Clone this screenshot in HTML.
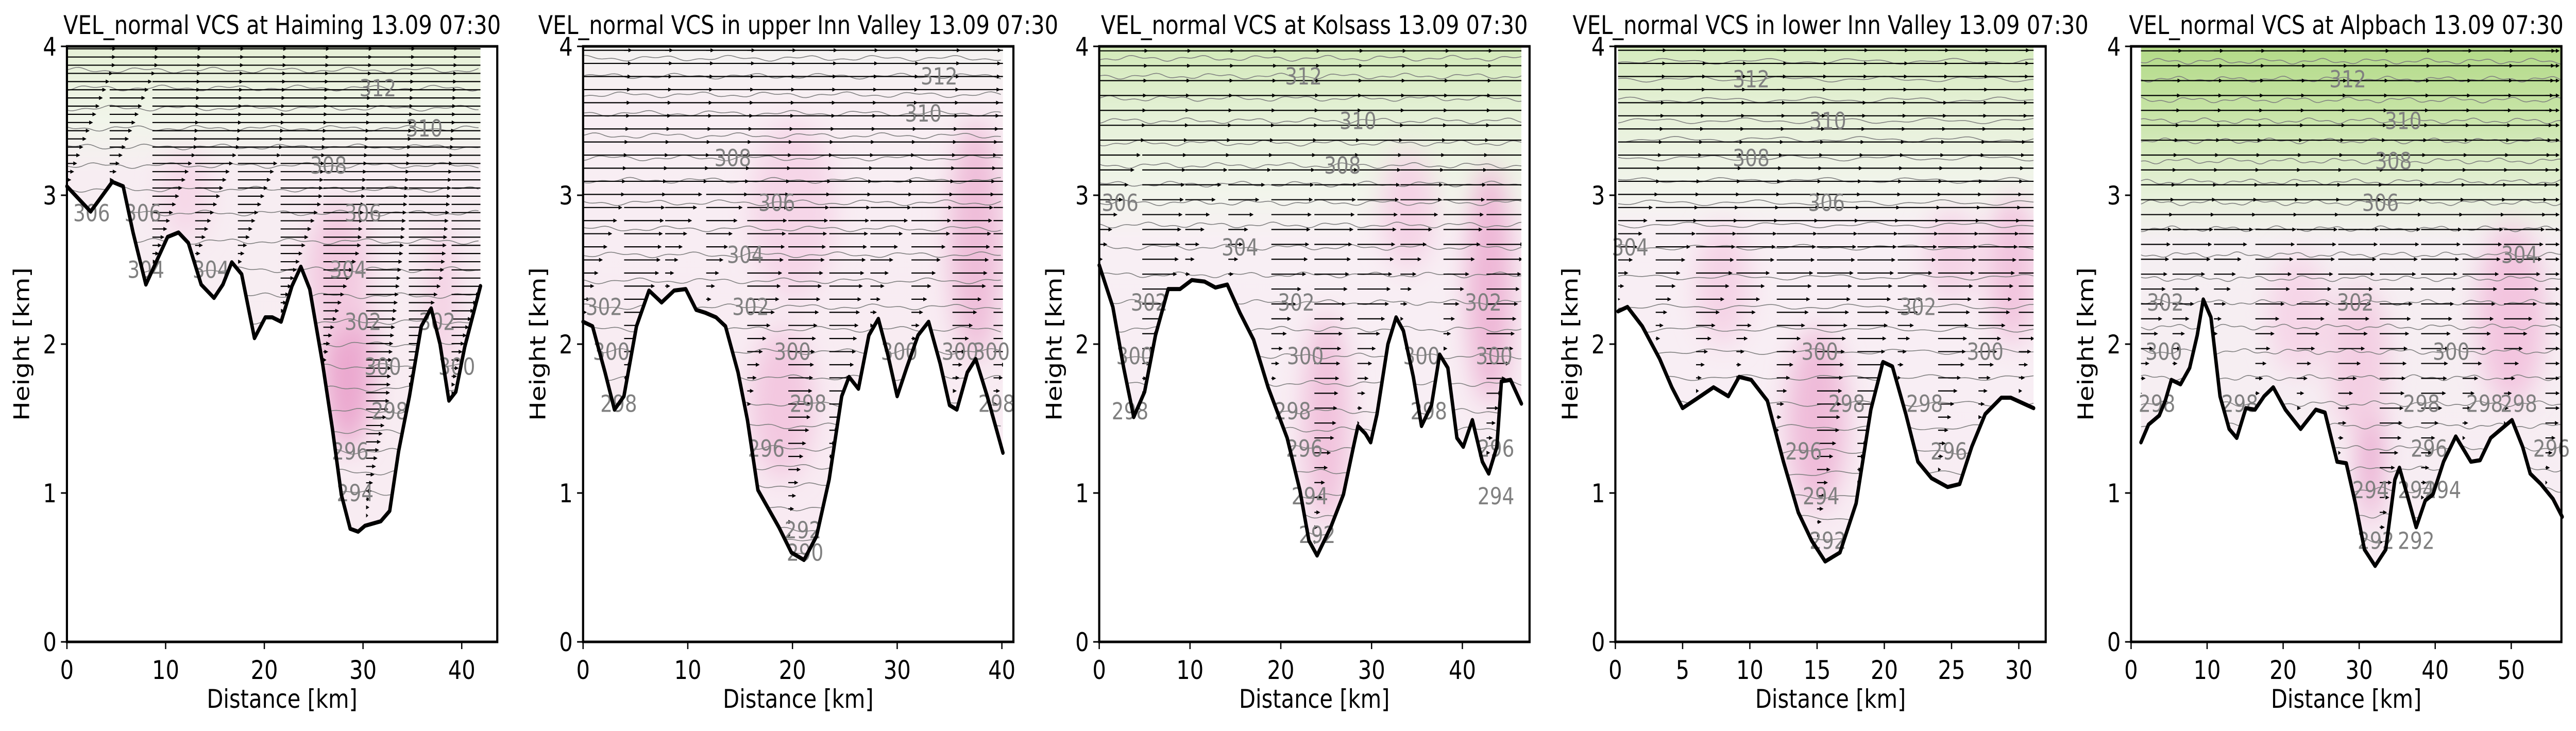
<!DOCTYPE html>
<html><head><meta charset="utf-8"><style>
html,body{margin:0;padding:0;background:#fff;overflow:hidden;width:100%;height:100%}
svg{display:block;overflow:hidden;width:100vw;height:100vh}
text{font-family:"DejaVu Sans","Liberation Sans",sans-serif}
</style></head><body>
<svg id="fig" viewBox="0 0 6004 1419" preserveAspectRatio="none" xmlns="http://www.w3.org/2000/svg">
<defs><filter id="blur" filterUnits="userSpaceOnUse" x="0" y="0" width="6004" height="1419"><feGaussianBlur stdDeviation="28"/></filter></defs>
</svg>
<script>
const titles=["VEL_normal VCS at Haiming 13.09 07:30","VEL_normal VCS in upper Inn Valley 13.09 07:30","VEL_normal VCS at Kolsass 13.09 07:30","VEL_normal VCS in lower Inn Valley 13.09 07:30","VEL_normal VCS at Alpbach 13.09 07:30"];
const xMax=[43.6,41.1,47.4,32.0,56.6];
const xTicks=[[0,10,20,30,40],[0,10,20,30,40],[0,10,20,30,40],[0,5,10,15,20,25,30],[0,10,20,30,40,50]];
const yTicks=[0,1,2,3,4];
const terrain1=[[0,3.06],[2.4,2.89],[4.6,3.09],[5.7,3.06],[6.7,2.75],[8.0,2.40],[9.1,2.56],[10.2,2.72],[11.3,2.75],[12.3,2.68],[13.6,2.40],[14.9,2.31],[15.8,2.40],[16.7,2.55],[17.7,2.47],[19.0,2.04],[20.1,2.18],[20.8,2.18],[21.7,2.15],[22.8,2.39],[23.7,2.52],[24.6,2.37],[25.9,1.87],[26.9,1.43],[27.8,0.99],[28.7,0.76],[29.5,0.74],[30.2,0.78],[31.8,0.81],[32.7,0.88],[33.6,1.28],[34.7,1.65],[35.9,2.12],[36.9,2.24],[37.8,2.00],[38.7,1.62],[39.4,1.68],[40.3,1.98],[41.9,2.39]];
const terrain2=[[0,2.15],[0.9,2.12],[2.1,1.81],[3.0,1.56],[3.9,1.65],[5.1,2.12],[6.3,2.36],[7.5,2.28],[8.7,2.36],[9.8,2.37],[10.8,2.23],[11.7,2.21],[12.7,2.18],[13.6,2.12],[14.8,1.81],[15.7,1.49],[16.7,1.02],[18.7,0.77],[19.9,0.60],[21.1,0.55],[22.3,0.71],[23.5,1.09],[24.7,1.65],[25.4,1.78],[26.3,1.70],[27.3,2.06],[28.2,2.17],[29.1,1.93],[30.0,1.65],[30.9,1.84],[32.0,2.06],[33.0,2.15],[34.1,1.87],[35.0,1.59],[35.7,1.56],[36.7,1.81],[37.5,1.90],[38.6,1.65],[40.1,1.27]];
const terrain3=[[0,2.53],[1.5,2.25],[2.7,1.84],[3.8,1.51],[5.0,1.68],[6.2,2.06],[7.6,2.37],[8.9,2.37],[10.2,2.43],[11.6,2.42],[12.8,2.38],[14.1,2.40],[15.5,2.21],[17.0,2.03],[18.6,1.71],[20.7,1.37],[22.1,1.02],[23.1,0.68],[24.0,0.58],[25.5,0.77],[26.9,0.99],[28.0,1.31],[28.5,1.45],[29.3,1.40],[29.9,1.34],[30.6,1.53],[31.8,2.00],[32.7,2.18],[33.5,2.09],[34.6,1.78],[35.5,1.45],[36.6,1.59],[37.5,1.93],[38.4,1.84],[39.4,1.37],[40.1,1.31],[41.1,1.49],[42.2,1.21],[42.9,1.13],[43.8,1.31],[44.3,1.75],[45.3,1.76],[46.5,1.60]];
const terrain4=[[0.2,2.22],[0.9,2.25],[2.0,2.12],[3.3,1.90],[4.2,1.71],[5.0,1.57],[6.0,1.63],[7.3,1.71],[8.4,1.65],[9.2,1.78],[10.1,1.76],[11.3,1.62],[12.5,1.21],[13.6,0.87],[14.6,0.68],[15.6,0.54],[16.7,0.60],[17.9,0.93],[19.0,1.56],[19.9,1.88],[20.6,1.85],[21.6,1.53],[22.5,1.21],[23.5,1.10],[24.7,1.04],[25.6,1.06],[26.5,1.31],[27.5,1.53],[28.7,1.64],[29.4,1.64],[31.1,1.57]];
const terrain5=[[1.3,1.34],[2.3,1.46],[3.7,1.52],[4.5,1.62],[5.3,1.76],[6.5,1.73],[7.7,1.84],[8.7,2.06],[9.5,2.30],[10.5,2.18],[11.7,1.65],[12.9,1.43],[13.9,1.37],[15.1,1.57],[16.3,1.56],[17.5,1.65],[18.7,1.71],[20.3,1.56],[22.3,1.43],[24.3,1.56],[25.5,1.54],[27.1,1.21],[28.3,1.20],[29.5,0.93],[30.7,0.62],[32.1,0.51],[33.5,0.62],[34.7,1.09],[35.3,1.17],[36.3,0.99],[37.5,0.77],[38.7,0.95],[39.7,0.99],[41.1,1.21],[42.7,1.38],[44.7,1.21],[45.9,1.22],[47.3,1.37],[48.7,1.43],[50.1,1.49],[51.5,1.31],[52.5,1.13],[53.9,1.06],[55.5,0.96],[56.7,0.84]];
const terrains=[terrain1,terrain2,terrain3,terrain4,terrain5];
const levels1=[[294,1.0],[296,1.28],[298,1.55],[300,1.85],[302,2.15],[304,2.5],[306,2.88],[308,3.2],[310,3.45],[312,3.72]];
const levels2=[[290,0.6],[292,0.75],[294,1.05],[296,1.3],[298,1.6],[300,1.95],[302,2.25],[304,2.6],[306,2.95],[308,3.25],[310,3.55],[312,3.8]];
const levels3=[[292,0.72],[294,0.98],[296,1.3],[298,1.55],[300,1.92],[302,2.28],[304,2.65],[306,2.95],[308,3.2],[310,3.5],[312,3.8]];
const levels4=[[292,0.68],[294,0.98],[296,1.28],[298,1.6],[300,1.95],[302,2.25],[304,2.65],[306,2.95],[308,3.25],[310,3.5],[312,3.78]];
const levels5=[[292,0.68],[294,1.02],[296,1.3],[298,1.6],[300,1.95],[302,2.28],[304,2.6],[306,2.95],[308,3.23],[310,3.5],[312,3.78]];
const levelSets=[levels1,levels2,levels3,levels4,levels5];
const labels1=[[2.5,306],[8,304],[14.6,304],[7.7,306],[26.5,308],[31.5,312],[36.2,310],[30,306],[28.5,304],[30,302],[32,300],[32.7,298],[28.7,296],[29.2,294],[39.5,300],[37.5,302]];
const labels2=[[2,302],[2.7,300],[3.4,298],[14.3,308],[18.5,306],[15.5,304],[16,302],[20,300],[21.5,298],[17.5,296],[21,292],[21.2,290],[34,312],[32.5,310],[30.2,300],[36,300],[39,300],[39.5,298]];
const labels3=[[2.3,306],[5.5,302],[3.9,300],[3.4,298],[15.5,304],[21.7,302],[22.7,300],[21.3,298],[22.6,296],[23.2,294],[24,292],[22.5,312],[28.5,310],[26.8,308],[35.5,300],[36.3,298],[42.3,302],[43.5,300],[43.7,296],[43.7,294]];
const labels4=[[1.1,304],[10.1,312],[15.8,310],[10.1,308],[15.7,306],[15.2,300],[17.2,298],[14,296],[15.3,294],[15.8,292],[22.5,302],[23,298],[24.8,296],[27.5,300]];
const labels5=[[4.5,302],[4.3,300],[3.4,298],[14.3,298],[28.5,312],[35.8,310],[34.5,308],[32.8,306],[29.5,302],[42.1,300],[38.2,298],[39.2,296],[41,294],[37.5,294],[37.5,292],[31.5,294],[32.2,292],[51.1,304],[51,298],[46.5,298],[55.3,296]];
const labelSets=[labels1,labels2,labels3,labels4,labels5];
const colStart=[0,0,0,0,0];
const colStep=[4.33,3.92,4.74,3.0,5.45];
const rowStep=[0.055,0.088,0.1,0.088,0.1];
const windSpeed=[[0,0.25],[1,0.35],[2,0.55],[2.6,0.75],[3,0.85],[3.5,0.95],[4,1.0]];
const maxLen=[115,115,115,120,120];
const bgStops=[
 [[4,'#e6f0d6'],[3.5,'#f1f5ea'],[3.15,'#f7edf2'],[0.5,'#f8ecf2']],
 [[4,'#f4f3f1'],[3.6,'#f8eef3'],[0.5,'#f8eaf2']],
 [[4,'#d3eab9'],[3.5,'#e6f1d9'],[3.0,'#f2f5ec'],[2.7,'#f8eff4'],[0.5,'#f8ecf3']],
 [[4,'#d5ebbd'],[3.6,'#e5f0d6'],[3.0,'#f3f5ee'],[2.8,'#f8eff4'],[0.5,'#f8ecf3']],
 [[4,'#b3da88'],[3.6,'#c5e3a3'],[3.0,'#e7f1da'],[2.7,'#f5eff2'],[0.5,'#f8ecf3']]];
const blobs=[
 [[28.5,1.85,2.6,0.55,'#eba8cf'],[27.5,2.5,3.2,0.45,'#f3c9e0'],[12,3.0,2.5,0.3,'#f6d8e8'],[38,2.3,1.5,0.5,'#f4cfe3']],
 [[19,1.6,3,0.5,'#f3c8e0'],[37.5,2.7,2.5,0.8,'#efbdd9'],[20,2.9,4,0.6,'#f6d6e8']],
 [[25,1.5,2.5,0.7,'#f1c1dc'],[43,2.4,2.5,0.8,'#eeb6d6'],[34,2.9,3,0.4,'#f5d3e6']],
 [[15,1.5,2.2,0.6,'#efbbd9'],[29.5,2.5,1.8,0.5,'#f2c4de'],[8,2.4,2,0.4,'#f5d3e6'],[25,2.6,2,0.3,'#f5d3e6']],
 [[31.5,1.4,1.5,0.6,'#e9a4cd'],[50,2.2,4.5,0.6,'#f3c5df'],[30,1.9,4,0.5,'#f4cfe3'],[22,2.2,4,0.4,'#f6d6e8']]];

const NS='http://www.w3.org/2000/svg';
const svg=document.getElementById('fig');
const AX_W=1003, AX_TOP=90, AX_BOT=1246;
const lefts=[156,1359,2562,3765,4967];
function sx(p,x){return lefts[p]+x/xMax[p]*AX_W;}
function sy(h){return AX_BOT-h/4*(AX_BOT-AX_TOP);}
function mk(tag,attrs,parent){const e=document.createElementNS(NS,tag);for(const k in attrs)e.setAttribute(k,attrs[k]);(parent||svg).appendChild(e);return e;}
function ground(p,x){const t=terrains[p];if(x<=t[0][0])return t[0][1];for(let i=1;i<t.length;i++){if(x<=t[i][0]){const f=(x-t[i-1][0])/(t[i][0]-t[i-1][0]);return t[i-1][1]+f*(t[i][1]-t[i-1][1]);}}return t[t.length-1][1];}
function wind(h){for(let i=1;i<windSpeed.length;i++){if(h<=windSpeed[i][0]){const f=(h-windSpeed[i-1][0])/(windSpeed[i][0]-windSpeed[i-1][0]);return windSpeed[i-1][1]+f*(windSpeed[i][1]-windSpeed[i-1][1]);}}return 1;}
const defs=svg.querySelector('defs');

for(let p=0;p<5;p++){
  const g=mk('g',{});
  
  
  const t=terrains[p];
  const x0=t[0][0], x1=t[t.length-1][0];
  const rightEdge=lefts[p]+AX_W-4;
  const cp=mk('clipPath',{id:'clip'+p},defs);
  let pts=sx(p,x0)+','+AX_TOP+' ';
  t.forEach(q=>{pts+=sx(p,q[0])+','+sy(q[1])+' ';});
  pts+=sx(p,x1)+','+AX_TOP;
  mk('polygon',{points:pts},cp);
  const lg=mk('linearGradient',{id:'bg'+p,x1:0,y1:AX_TOP,x2:0,y2:AX_BOT,gradientUnits:'userSpaceOnUse'},defs);
  bgStops[p].forEach(s=>{mk('stop',{offset:((sy(s[0])-AX_TOP)/(AX_BOT-AX_TOP)).toFixed(3),'stop-color':s[1]},lg);});
  const field=mk('g',{'clip-path':'url(#clip'+p+')'},g);
  
  
  mk('rect',{x:sx(p,x0),y:AX_TOP,width:sx(p,x1)-sx(p,x0),height:AX_BOT-AX_TOP,fill:'url(#bg'+p+')'},field);
  const bl=mk('g',{filter:'url(#blur)'},field);
  blobs[p].forEach(b=>{const e=mk('ellipse',{cx:sx(p,b[0]),cy:sy(b[1]),rx:b[2]/xMax[p]*AX_W,ry:b[3]/4*(AX_BOT-AX_TOP),fill:b[4]},bl);
    });
  const lv=levelSets[p];
  const allLv=[];
  for(let i=0;i<lv.length;i++){allLv.push(lv[i][1]);if(i<lv.length-1)allLv.push((lv[i][1]+lv[i+1][1])/2);}
  allLv.push(lv[lv.length-1][1]+0.12);
  allLv.forEach((h,k)=>{
    let d='';
    for(let x=x0;x<=x1+0.01;x+=0.3){const w=0.012*Math.sin(x*0.9+k*1.7)+0.008*Math.sin(x*2.3+k*0.6);const y=sy(h+w);d+=(d?'L':'M')+sx(p,x).toFixed(1)+','+y.toFixed(1);}
    const c=mk('path',{d:d,fill:'none',stroke:'#808080','stroke-width':1.6},field);
    
    
  });
  const ag=mk('g',{},field);
  
  
  for(let cx=colStart[p];cx<=x1;cx+=colStep[p]){
    const gr=ground(p,cx);
    const X=sx(p,cx);
    for(let h=4-rowStep[p]*0.3;h>gr+0.02;h-=rowStep[p]){
      const f=Math.min(1,(h-gr)/0.8);
      let L=Math.max(3,maxLen[p]*wind(h)*(0.05+0.95*f));
      L=Math.min(L,rightEdge-X);
      if(L<3) continue;
      const Y=sy(h);
      if(L>10) mk('line',{x1:X,y1:Y,x2:X+L-7,y2:Y,stroke:'#000','stroke-width':2.2},ag);
      const hl=Math.min(9,L);
      mk('polygon',{points:(X+L)+','+Y+' '+(X+L-hl)+','+(Y-4)+' '+(X+L-hl)+','+(Y+4)},ag);
    }
  }
  labelSets[p].forEach(l=>{
    const e=lv.find(v=>v[0]===l[1]);if(!e)return;
    const tx=mk('text',{x:sx(p,l[0]),y:sy(e[1])+16,'font-size':45,fill:'#808080','text-anchor':'middle'},g);
    tx.textContent=l[1];
    
    
  });
  let td='';t.forEach(q=>{td+=(td?'L':'M')+sx(p,q[0]).toFixed(1)+','+sy(q[1]).toFixed(1);});
  const tp=mk('path',{d:td,fill:'none',stroke:'#000','stroke-width':8,'stroke-linejoin':'round','stroke-linecap':'round'},g);
  
  
  const fr=mk('rect',{x:lefts[p],y:AX_TOP,width:AX_W,height:AX_BOT-AX_TOP,fill:'none',stroke:'#000','stroke-width':5},g);
  
  
  xTicks[p].forEach(v=>{
    const X=sx(p,v);
    mk('line',{x1:X,y1:AX_BOT,x2:X,y2:AX_BOT+14,stroke:'#000','stroke-width':3},g);
    const tx=mk('text',{x:X,y:1318,'font-size':50,'text-anchor':'middle',fill:'#000'},g);
    tx.textContent=v;
    
    
  });
  yTicks.forEach(v=>{
    const Y=sy(v);
    mk('line',{x1:lefts[p]-14,y1:Y,x2:lefts[p],y2:Y,stroke:'#000','stroke-width':3},g);
    const tx=mk('text',{x:lefts[p]-24,y:Y+18,'font-size':50,'text-anchor':'end',fill:'#000'},g);
    tx.textContent=v;
    
    
  });
  const xl=mk('text',{x:lefts[p]+AX_W/2,y:1374,'font-size':50,'text-anchor':'middle',fill:'#000'},g);
  xl.textContent='Distance [km]';
  
  
  const yl=mk('text',{x:0,y:0,'font-size':50,'text-anchor':'middle',fill:'#000',transform:'translate('+(lefts[p]-88)+','+((AX_TOP+AX_BOT)/2)+') rotate(-90)'},g);
  yl.textContent='Height [km]';
  
  
  const ti=mk('text',{x:lefts[p]+AX_W/2,y:66,'font-size':50,'text-anchor':'middle',fill:'#000'},g);
  ti.textContent=titles[p];
  
  
}
</script>
</body></html>
